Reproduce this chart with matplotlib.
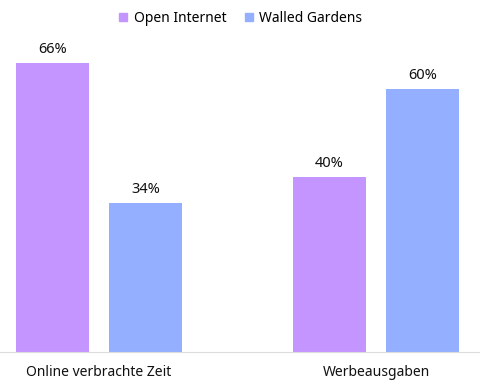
import matplotlib.pyplot as plt
import numpy as np

plt.rcParams['font.family'] = ['Noto Sans', 'DejaVu Sans']

categories = ['Online verbrachte Zeit', 'Werbeausgaben']
series_names = ['Open Internet', 'Walled Gardens']
open_internet = [66, 40]
walled_gardens = [34, 60]
colors = ['#c495ff', '#94afff']

fig = plt.figure(figsize=(4.8, 3.87), dpi=100)
ax = fig.add_axes([0, 0.0904, 1, 0.792])

x = np.arange(len(categories))
w = 0.2635
off = 0.168
b1 = ax.bar(x - off, open_internet, w, color=colors[0], label=series_names[0])
b2 = ax.bar(x + off, walled_gardens, w, color=colors[1], label=series_names[1])

for bars, vals in [(b1, open_internet), (b2, walled_gardens)]:
    for b, v in zip(bars, vals):
        ax.text(b.get_x() + b.get_width() / 2, v + 1.4, f'{v}%', ha='center',
                va='bottom', fontsize=10.5, color='#111111')

ax.set_xlim(-0.357, 1.375)
ax.set_ylim(0, 70)
ax.set_xticks(x)
ax.set_xticklabels(categories, fontsize=10, color='#111111')
ax.tick_params(axis='x', length=0, pad=9)
ax.set_yticks([])
for s in ['top', 'right', 'left']:
    ax.spines[s].set_visible(False)
ax.spines['bottom'].set_color('#dddddd')

handles = [plt.Line2D([], [], marker='s', linestyle='None', markersize=5.5,
                      color=c, label=n) for c, n in zip(colors, series_names)]
fig.legend(handles=handles, loc='center', bbox_to_anchor=(0.5, 0.953), ncol=2,
           frameon=False, fontsize=10, handlelength=0.8, handletextpad=0.35,
           columnspacing=1.2)

fig.savefig('out.png', dpi=100)
